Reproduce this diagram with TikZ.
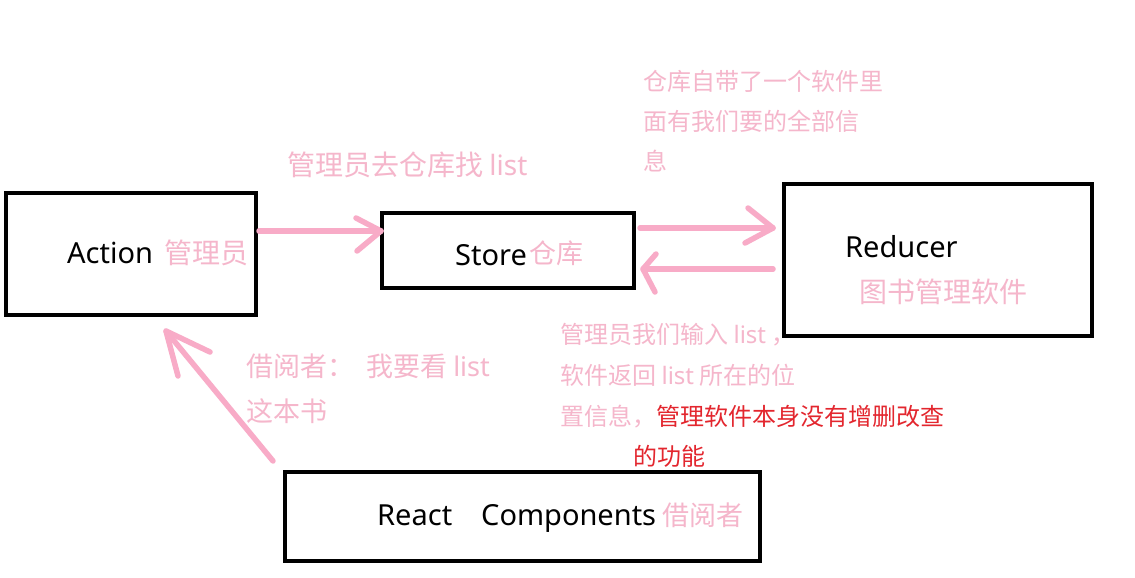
\documentclass[tikz,border=0pt]{standalone}
\usepackage{fontspec}
\setmainfont{Noto Sans}
\newfontfamily\cjk{Noto Sans CJK SC}
\definecolor{notepink}{HTML}{F5B6CB}
\definecolor{arrowpink}{HTML}{F8ABC7}
\definecolor{notered}{HTML}{E3262E}
\begin{document}
\begin{tikzpicture}[x=1pt,y=-1pt,
  box/.style={draw=black, line width=4.5pt, inner sep=0pt},
  lbl/.style={inner sep=0pt, anchor=base west, font=\fontsize{29}{31}\selectfont},
  bigpink/.style={inner sep=0pt, anchor=base west, text=notepink, font=\cjk\fontsize{28}{30}\selectfont},
  midpink/.style={inner sep=0pt, anchor=base west, text=notepink, font=\cjk\fontsize{27}{29}\selectfont},
  smallpink/.style={inner sep=0pt, anchor=base west, text=notepink, font=\cjk\fontsize{24}{26}\selectfont},
  arr/.style={draw=arrowpink, line width=5.5pt, line cap=round, line join=round}]
\useasboundingbox (0,0) rectangle (1135,578);
\fill[white] (0,0) rectangle (1135,578);

% boxes
\node[box, minimum width=250pt, minimum height=122pt] (action) at (131,254) {};
\node[box, minimum width=252pt, minimum height=75pt] (store) at (508,250.5) {};
\node[box, minimum width=308pt, minimum height=152pt] (reducer) at (938,260) {};
\node[box, minimum width=475pt, minimum height=89pt] (react) at (522.5,516.5) {};

% box labels
\node[lbl] (actiont) at (67,263) {Action};
\node[bigpink] (actionz) at (164,263) {管理员};
\node[lbl] (storet) at (455,265) {Store};
\node[midpink] (storez) at (529,263) {仓库};
\node[lbl] (reducert) at (845,257) {Reducer};
\node[bigpink] (reducerz) at (859,302) {图书管理软件};
\node[lbl] (reactt) at (377,525) {React};
\node[lbl] (compt) at (481,525) {Components};
\node[midpink] (reactz) at (662,525) {借阅者};

% notes
\node[bigpink] (n1) at (287,175) {管理员去仓库找 {\rmfamily list}};
\node[smallpink] (n2a) at (643,90) {仓库自带了一个软件里};
\node[smallpink] (n2b) at (643,130) {面有我们要的全部信};
\node[smallpink] (n2c) at (643,170) {息};
\node[midpink] (n3a) at (246,376) {借阅者：\hspace{12pt}我要看 {\rmfamily list}};
\node[midpink] (n3b) at (246,421) {这本书};
\node[smallpink] (n4a) at (560,343) {管理员我们输入 {\rmfamily list} ，};
\node[smallpink] (n4b) at (560,384) {软件返回 {\rmfamily list} 所在的位};
\node[smallpink] (n4c) at (560,425) {置信息，\textcolor{notered}{管理软件本身没有增删改查}};
\node[smallpink, text=notered] (n4d) at (633,465) {的功能};

% arrows
\coordinate (a1s) at (259,231);
\coordinate (a1e) at (381,231);
\draw[arr] (a1s) -- (a1e);
\draw[arr] (356,218) -- (a1e) -- (357,251);

\coordinate (a2s) at (640,228);
\coordinate (a2e) at (773,228);
\draw[arr] (a2s) -- (a2e);
\draw[arr] (748,208) -- (a2e) -- (745,243);

\coordinate (a3s) at (773,269);
\coordinate (a3e) at (643,269);
\draw[arr] (a3s) -- (a3e);
\draw[arr] (656,254) -- (a3e) -- (655,292);

\coordinate (a4s) at (273,461);
\coordinate (a4e) at (166,331);
\draw[arr] (a4s) -- (a4e);
\draw[arr] (210,352) -- (a4e) -- (178,376);
\end{tikzpicture}
\end{document}
